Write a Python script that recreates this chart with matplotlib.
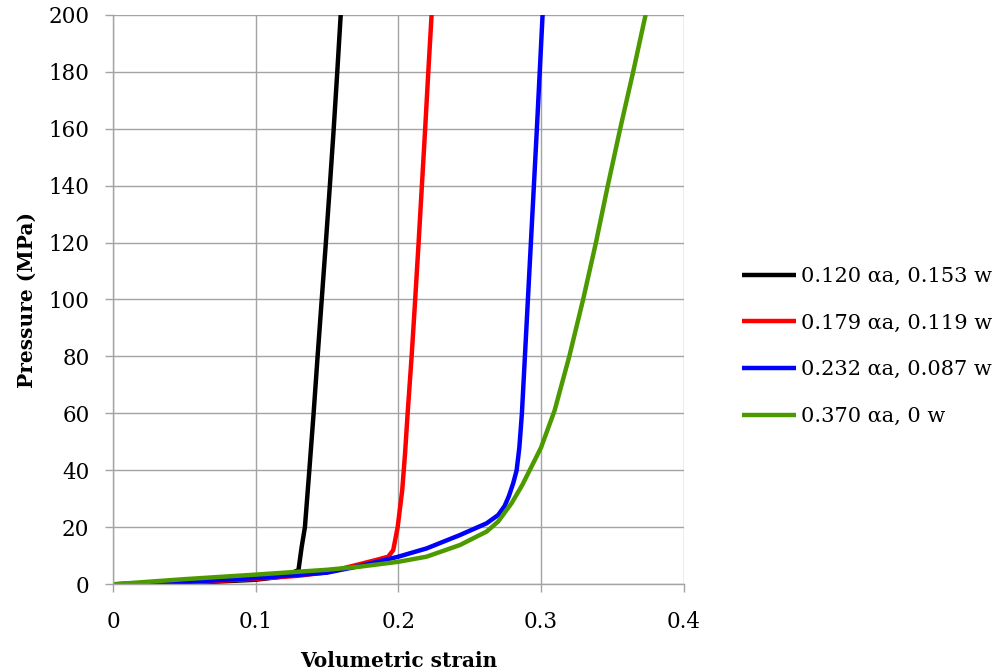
import matplotlib
matplotlib.use("Agg")
import matplotlib.pyplot as plt

plt.rcParams['font.family'] = ['DejaVu Serif']

# Volumetric strain vs pressure for four mixes
labels = ["0.120 \u03b1a, 0.153 w", "0.179 \u03b1a, 0.119 w",
          "0.232 \u03b1a, 0.087 w", "0.370 \u03b1a, 0 w"]
colors = ["#000000", "#FF0000", "#0000FF", "#4C9A00"]

strain_1 = [0, 0.05, 0.10, 0.12, 0.130, 0.1322, 0.1345, 0.1376, 0.1406,
            0.1434, 0.1463, 0.1492, 0.1520, 0.1547, 0.1572, 0.1596]
press_1 = [0, 0.4, 1.6, 2.8, 5.0, 13, 20, 40, 60,
           80, 100, 120, 140, 160, 180, 200]

strain_2 = [0, 0.05, 0.10, 0.13, 0.15, 0.1731, 0.1848, 0.1929, 0.1964,
            0.1995, 0.2027, 0.2047, 0.2065, 0.2093, 0.2118, 0.2142, 0.2165,
            0.2188, 0.2210, 0.2233]
press_2 = [0, 0.6, 1.9, 3.0, 4.2, 7.1, 8.6, 9.7, 12,
           20, 33, 46, 60, 80, 100, 120, 140,
           160, 180, 200]

strain_3 = [0, 0.05, 0.10, 0.13, 0.15, 0.1731, 0.2000, 0.2198, 0.2432,
            0.2618, 0.2699, 0.2745, 0.2775, 0.2805, 0.2829, 0.2848, 0.2866,
            0.2887, 0.2908, 0.2929, 0.2950, 0.2971, 0.2991, 0.3011]
press_3 = [0, 0.8, 2.2, 3.3, 4.1, 6.4, 9.7, 12.6, 17.3,
           21.4, 24.3, 27.5, 31, 35.5, 40, 48, 60,
           80, 100, 120, 140, 160, 180, 200]

strain_4 = [0, 0.05, 0.10, 0.15, 0.1731, 0.2000, 0.2198, 0.2432, 0.2618,
            0.2699, 0.2794, 0.2870, 0.2935, 0.3000, 0.3095, 0.3198, 0.3295,
            0.3385, 0.3468, 0.3555, 0.3646, 0.3733]
press_4 = [0, 1.8, 3.4, 5.1, 6.2, 7.9, 9.7, 13.8, 18.5,
           22.0, 28.5, 35, 41.5, 48, 61, 80, 100,
           120, 140, 160, 180, 200]

x_ticks = [0, 0.1, 0.2, 0.3, 0.4]
x_tick_labels = ["0", "0.1", "0.2", "0.3", "0.4"]
y_ticks = list(range(0, 201, 20))

series = [(strain_1, press_1), (strain_2, press_2),
          (strain_3, press_3), (strain_4, press_4)]

fig = plt.figure(figsize=(10.06, 6.72), dpi=100)
ax = fig.add_axes([113 / 1006, 1 - 584.3 / 672, 570.7 / 1006, 569.6 / 672])

grid_col = "#A3A3A3"
for (xs, ys), c, lab in zip(series, colors, labels):
    ax.plot(xs, ys, color=c, lw=3.2, label=lab, solid_capstyle='butt',
            solid_joinstyle='round')

ax.set_xlim(0, 0.4)
ax.set_ylim(0, 200)
ax.set_xticks(x_ticks)
ax.set_xticklabels(x_tick_labels)
ax.set_yticks(y_ticks)
ax.grid(True, color=grid_col, lw=1.0)
ax.set_axisbelow(True)
for s in ["top", "right"]:
    ax.spines[s].set_visible(False)
for s in ["left", "bottom"]:
    ax.spines[s].set_color(grid_col)
    ax.spines[s].set_linewidth(1.0)
ax.tick_params(axis='both', direction='out', length=6, width=1.0,
               color=grid_col, labelsize=15.5, labelcolor="#000000")
ax.tick_params(axis='y', pad=11)
ax.tick_params(axis='x', pad=13)

fig.text(398.5 / 1006, 1 - 666.7 / 672, "Volumetric strain", ha='center',
         va='baseline', fontsize=14.5, fontweight='bold')
fig.text(32.7 / 1006, 1 - 300 / 672, "Pressure (MPa)", ha='center',
         va='baseline', rotation=90, rotation_mode='anchor',
         fontsize=14.5, fontweight='bold')

leg = fig.legend(loc='center left', bbox_to_anchor=(741.7 / 1006, 1 - 346.5 / 672),
                 frameon=False, fontsize=15, borderpad=0, borderaxespad=0,
                 handlelength=2.6, handletextpad=0.25, labelspacing=1.33)

fig.savefig("out.png", dpi=100)
